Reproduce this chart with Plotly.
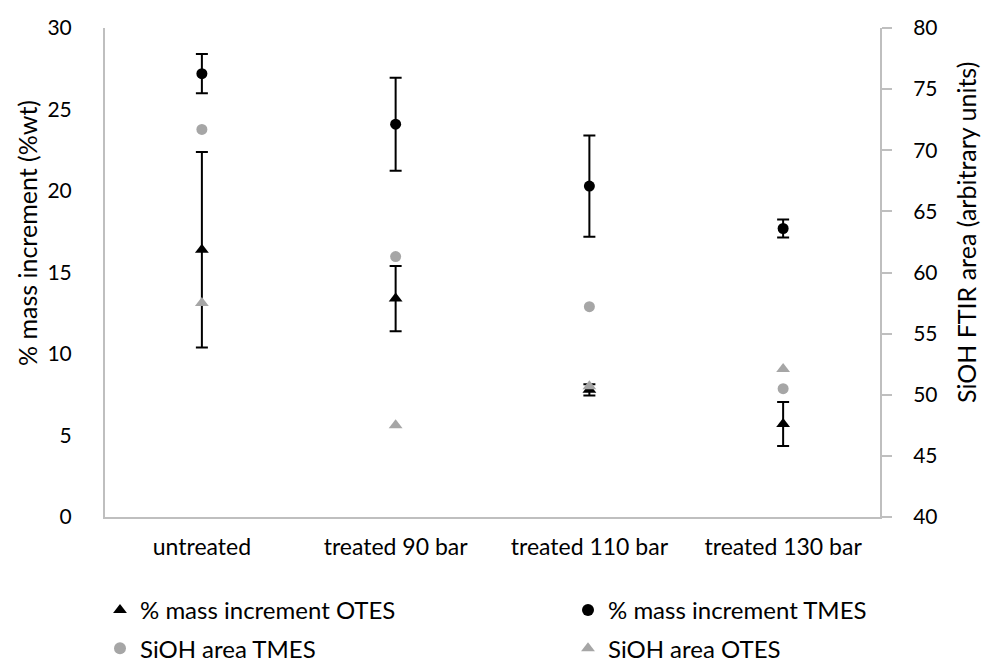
import plotly.graph_objects as go

categories = ["untreated", "treated 90 bar", "treated 110 bar", "treated 130 bar"]
mass_otes = [16.4, 13.4, 7.8, 5.7]
mass_otes_err = [6.0, 2.0, 0.35, 1.35]
mass_tmes = [27.2, 24.1, 20.3, 17.7]
mass_tmes_err = [1.2, 2.85, 3.1, 0.55]
sioh_tmes = [71.7, 61.3, 57.2, 50.5]
sioh_otes = [57.5, 47.5, 50.7, 52.1]
left_title = "% mass increment (%wt)"
right_title = "SiOH FTIR area (arbitrary units)"

FONT = "Lato"
GRAY = "#a6a6a6"
W, H = 982, 668
L, R, T, B = 105, 102, 28, 151
PW, PH = W - L - R, H - T - B

fig = go.Figure()
fig.add_trace(go.Scatter(
    x=categories, y=mass_otes, mode="markers", name="% mass increment OTES",
    legend="legend", legendgroup="a",
    marker=dict(symbol="triangle-up", size=12, color="black"),
    error_y=dict(type="data", array=mass_otes_err, color="black", thickness=2, width=6),
))
fig.add_trace(go.Scatter(
    x=categories, y=mass_tmes, mode="markers", name="% mass increment TMES",
    legend="legend2", legendgroup="b",
    marker=dict(symbol="circle", size=11, color="black"),
    error_y=dict(type="data", array=mass_tmes_err, color="black", thickness=2, width=6),
))
fig.add_trace(go.Scatter(
    x=categories, y=sioh_tmes, mode="markers", name="SiOH area TMES", yaxis="y2",
    legend="legend", legendgroup="c",
    marker=dict(symbol="circle", size=11, color=GRAY),
))
fig.add_trace(go.Scatter(
    x=categories, y=sioh_otes, mode="markers", name="SiOH area OTES", yaxis="y2",
    legend="legend2", legendgroup="d",
    marker=dict(symbol="triangle-up", size=12, color=GRAY),
))

legend_common = dict(
    orientation="v", xref="container", yref="container",
    xanchor="left", yanchor="top", y=1 - 588 / H,
    font=dict(family=FONT, size=24, color="black"),
    itemsizing="constant", tracegroupgap=4, itemwidth=30,
    bgcolor="rgba(0,0,0,0)",
)

title_y = (H - B - 233) / PH
fig.update_layout(
    width=W, height=H,
    margin=dict(l=L, r=R, t=T, b=B, autoexpand=False),
    paper_bgcolor="white", plot_bgcolor="white",
    font=dict(family=FONT, size=23, color="black"),
    showlegend=True,
    legend=dict(x=100 / W, **legend_common),
    legend2=dict(x=568 / W, **legend_common),
    xaxis=dict(
        type="category", range=[-0.5, 3.5], automargin=False,
        showline=True, linecolor="#bfbfbf", linewidth=2,
        ticks="", showgrid=False, zeroline=False,
        tickfont=dict(family=FONT, size=23), ticklabelstandoff=8,
    ),
    yaxis=dict(
        range=[0, 30], dtick=5, automargin=False,
        showline=True, linecolor="#bfbfbf", linewidth=2,
        ticks="", showgrid=False, zeroline=False,
        tickfont=dict(family=FONT, size=21), ticklabelstandoff=27,
    ),
    yaxis2=dict(
        range=[40, 80], dtick=5, overlaying="y", side="right", automargin=False,
        showline=True, linecolor="#bfbfbf", linewidth=2,
        ticks="outside", ticklen=10, tickcolor="#bfbfbf", tickwidth=2,
        showgrid=False, zeroline=False,
        tickfont=dict(family=FONT, size=21), ticklabelstandoff=17,
    ),
    annotations=[
        dict(text=left_title, textangle=-90, xref="paper", yref="paper",
             x=(27 - L) / PW, y=title_y, xanchor="center", yanchor="middle",
             showarrow=False, font=dict(family=FONT, size=25, color="black")),
        dict(text=right_title, textangle=-90, xref="paper", yref="paper",
             x=(966 - L) / PW, y=title_y, xanchor="center", yanchor="middle",
             showarrow=False, font=dict(family=FONT, size=25, color="black")),
    ],
)

fig.write_html("out.html")
